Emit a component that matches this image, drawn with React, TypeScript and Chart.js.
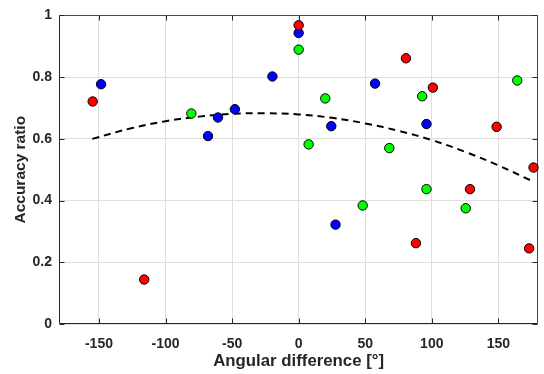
import React, { useEffect, useRef } from 'react';
import { Chart, registerables } from 'chart.js';

Chart.register(...registerables);

const redX = [-154.7, -116, 0, 80.6, 100.8, 148.7, 176.4, 128.7, 88.1, 173.1];
const redY = [0.721, 0.144, 0.968, 0.861, 0.766, 0.639, 0.507, 0.437, 0.262, 0.245];
const blueX = [-148.4, 0, -19.7, -60.6, -47.9, -68.1, 24.5, 57.4, 96, 27.7];
const blueY = [0.777, 0.943, 0.802, 0.669, 0.696, 0.609, 0.641, 0.779, 0.648, 0.322];
const greenX = [-80.6, 0, 20, 7.5, 92.8, 68.1, 164.2, 48.1, 96, 125.5];
const greenY = [0.682, 0.889, 0.731, 0.582, 0.738, 0.57, 0.789, 0.384, 0.437, 0.375];
const fitX = [-155, -125, -100, -75, -50, -25, 0, 25, 50, 75, 100, 125, 150, 175];
const fitY = [0.6, 0.635, 0.657, 0.672, 0.681, 0.683, 0.679, 0.668, 0.65, 0.626, 0.596, 0.558, 0.514, 0.464];
const xTicks = [-150, -100, -50, 0, 50, 100, 150];
const yTicks = [0, 0.2, 0.4, 0.6, 0.8, 1];
const xTitle = 'Angular difference [°]';
const yTitle = 'Accuracy ratio';

const pts = (xs: number[], ys: number[]) => xs.map((x, i) => ({ x, y: ys[i] }));

const FONT = "'Liberation Sans', Arial, Helvetica, sans-serif";
const AXIS = '#262626';

const framePlugin = {
  id: 'frame',
  beforeDatasetsDraw(chart: any) {
    const { ctx, chartArea: a, scales } = chart;
    const L = Math.round(a.left) + 0.5;
    const R = Math.round(a.right) - 0.5;
    const T = Math.round(a.top) + 0.5;
    const B = Math.round(a.bottom) - 0.5;
    ctx.save();
    ctx.lineWidth = 1;
    ctx.strokeStyle = '#4a4a4a';
    ctx.beginPath();
    ctx.moveTo(L, T);
    ctx.lineTo(R, T);
    ctx.lineTo(R, B);
    ctx.stroke();
    ctx.strokeStyle = AXIS;
    ctx.beginPath();
    ctx.moveTo(L, T);
    ctx.lineTo(L, B);
    ctx.lineTo(R, B);
    for (const v of xTicks) {
      const px = Math.round(scales.x.getPixelForValue(v)) + 0.5;
      ctx.moveTo(px, B);
      ctx.lineTo(px, B - 5);
      ctx.moveTo(px, T);
      ctx.lineTo(px, T + 5);
    }
    for (const v of yTicks) {
      const py = Math.round(scales.y.getPixelForValue(v)) + 0.5;
      ctx.moveTo(L, py);
      ctx.lineTo(L + 5, py);
      ctx.moveTo(R, py);
      ctx.lineTo(R - 5, py);
    }
    ctx.stroke();
    ctx.restore();
  },
};

export default function App() {
  const ref = useRef<HTMLCanvasElement>(null);
  useEffect(() => {
    if (!ref.current) return;
    const marker = (color: string) => ({
      backgroundColor: color,
      borderColor: '#000000',
      borderWidth: 1,
      pointRadius: 4.7,
      pointHoverRadius: 4.7,
      showLine: false,
    });
    const chart = new Chart(ref.current, {
      type: 'scatter',
      data: {
        datasets: [
          { label: 'red', data: pts(redX, redY), ...marker('#ff0000') },
          { label: 'blue', data: pts(blueX, blueY), ...marker('#0000ff') },
          { label: 'green', data: pts(greenX, greenY), ...marker('#00ff00') },
          {
            label: 'fit',
            data: pts(fitX, fitY),
            showLine: true,
            borderColor: '#000000',
            borderWidth: 2,
            borderDash: [7, 5],
            pointRadius: 0,
            tension: 0.4,
            fill: false,
          },
        ],
      },
      options: {
        animation: false,
        responsive: false,
        clip: false as any,
        layout: { padding: { top: 13, right: 3, left: 0, bottom: 0 } },
        plugins: { legend: { display: false }, tooltip: { enabled: false } },
        scales: {
          x: {
            type: 'linear',
            min: -180,
            max: 180,
            afterBuildTicks: (s: any) => {
              s.ticks = xTicks.map((v) => ({ value: v }));
            },
            afterFit: (s: any) => {
              s.height = 50;
            },
            grid: { color: '#dedede', lineWidth: 1, drawTicks: false },
            border: { display: false },
            ticks: {
              color: AXIS,
              padding: 12,
              font: { family: FONT, size: 14, weight: 'bold' },
              maxRotation: 0,
              callback: (v: any) => String(v),
            },
            title: {
              display: true,
              text: xTitle,
              color: AXIS,
              font: { family: FONT, size: 16.8, weight: 'bold' },
              padding: { top: 0, bottom: 3 },
            },
          },
          y: {
            type: 'linear',
            min: 0,
            max: 1,
            afterBuildTicks: (s: any) => {
              s.ticks = yTicks.map((v) => ({ value: v }));
            },
            afterFit: (s: any) => {
              s.width = 59;
            },
            grid: { color: '#dedede', lineWidth: 1, drawTicks: false },
            border: { display: false },
            ticks: {
              color: AXIS,
              padding: 7,
              font: { family: FONT, size: 14, weight: 'bold' },
              callback: (v: any) => String(Math.round(Number(v) * 10) / 10),
            },
            title: {
              display: true,
              text: yTitle,
              color: AXIS,
              font: { family: FONT, size: 15.5, weight: 'bold' },
              padding: { top: 11, bottom: 0 },
            },
          },
        },
      },
      plugins: [framePlugin],
    } as any);
    return () => chart.destroy();
  }, []);
  return (
    <div style={{ position: 'fixed', left: 0, top: 0, width: 544, height: 374, background: '#ffffff' }}>
      <canvas ref={ref} width={544} height={374} />
    </div>
  );
}
